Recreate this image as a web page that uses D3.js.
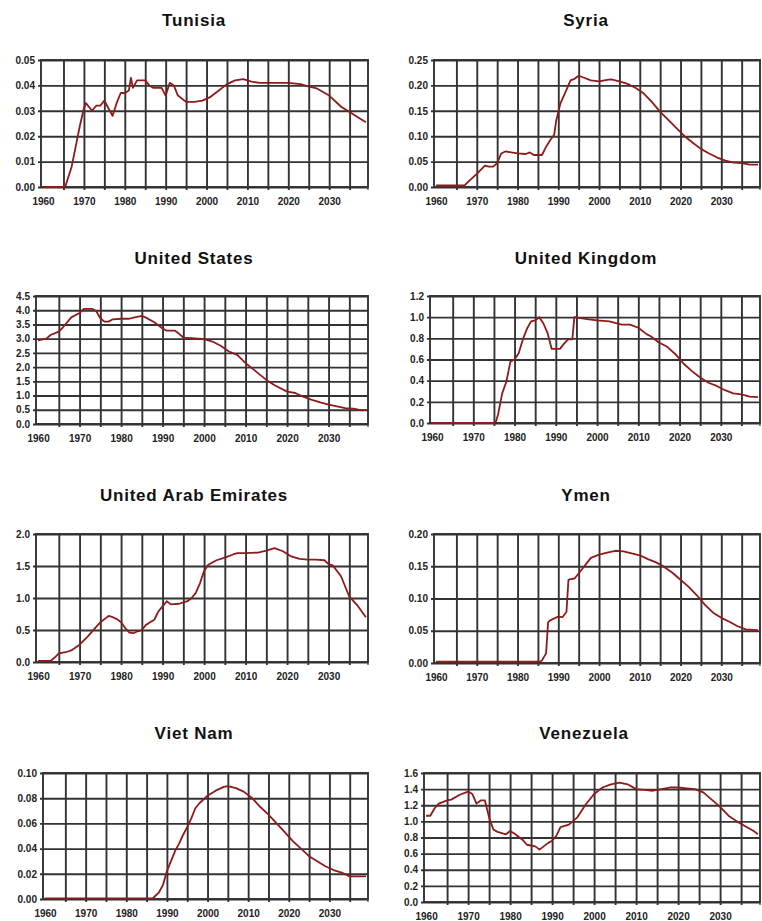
<!DOCTYPE html>
<html>
<head>
<meta charset="utf-8">
<script src="https://cdn.jsdelivr.net/npm/d3@7"></script>
<style>
  body { margin: 0; background: #fff; }
  svg { display: block; font-family: "Liberation Sans", Arial, sans-serif; }
  .title { font-size: 17px; font-weight: bold; letter-spacing: 0.8px; text-anchor: middle; fill: #111; }
  .tick text { font-size: 10px; font-weight: bold; fill: #222; font-family: "Liberation Sans", Arial, sans-serif; }
</style>
</head>
<body>
<svg id="chart" width="762" height="921"></svg>
<script>
// year / value pairs
const tunisia = [[1960,0],[1965,0],[1965.5,0.0005],[1967,0.008],[1968,0.016],[1969,0.024],[1970,0.031],[1970.5,0.033],[1972,0.030],[1973,0.032],[1974,0.032],[1975,0.034],[1976,0.031],[1977,0.028],[1978,0.033],[1979,0.037],[1980,0.037],[1981,0.038],[1981.5,0.043],[1982,0.039],[1983,0.042],[1985,0.042],[1986,0.040],[1987,0.039],[1989,0.039],[1990,0.036],[1991,0.041],[1992,0.040],[1993,0.036],[1995,0.0335],[1997,0.0335],[1999,0.034],[2001,0.0355],[2003,0.038],[2005,0.0405],[2007,0.042],[2009,0.0425],[2011,0.0415],[2013,0.041],[2015,0.041],[2017,0.041],[2020,0.041],[2023,0.0405],[2025,0.0395],[2027,0.0388],[2030,0.036],[2033,0.0315],[2035,0.0295],[2037,0.0275],[2039,0.0255]];
const syria = [[1960,0.003],[1967,0.003],[1968,0.011],[1970,0.026],[1972,0.042],[1973,0.040],[1974,0.040],[1975,0.047],[1976,0.066],[1977,0.070],[1980,0.066],[1982,0.065],[1983,0.068],[1984,0.063],[1986,0.063],[1987,0.079],[1988,0.092],[1989,0.103],[1989.5,0.131],[1990.5,0.164],[1992,0.191],[1993,0.210],[1994,0.213],[1995,0.219],[1996,0.216],[1998,0.210],[2000,0.208],[2002,0.211],[2003,0.212],[2005,0.208],[2007,0.203],[2009,0.195],[2011,0.184],[2013,0.167],[2015,0.148],[2017,0.132],[2019,0.116],[2021,0.100],[2023,0.087],[2025,0.075],[2027,0.066],[2029,0.058],[2031,0.052],[2033,0.048],[2035,0.047],[2037,0.044],[2039,0.044]];
const unitedStates = [[1960,2.94],[1962,3.0],[1963,3.13],[1965,3.25],[1966,3.4],[1968,3.75],[1970,3.9],[1971,4.05],[1973,4.05],[1974,3.97],[1975,3.72],[1976,3.6],[1977,3.6],[1978,3.68],[1980,3.7],[1982,3.7],[1983,3.74],[1985,3.8],[1986,3.74],[1988,3.58],[1990,3.36],[1991,3.28],[1993,3.28],[1994,3.17],[1995,3.04],[1997,3.02],[2000,2.98],[2002,2.9],[2004,2.75],[2006,2.55],[2008,2.43],[2010,2.14],[2013,1.79],[2015,1.55],[2017,1.36],[2020,1.14],[2022,1.09],[2024,0.95],[2026,0.85],[2028,0.76],[2030,0.68],[2032,0.62],[2034,0.56],[2036,0.54],[2038,0.48],[2039,0.5]];
const unitedKingdom = [[1960,0],[1975,0],[1975.5,0.015],[1976,0.08],[1977,0.28],[1978,0.39],[1979,0.58],[1980,0.6],[1981,0.66],[1982,0.79],[1983,0.89],[1984,0.96],[1985,0.97],[1986,1.0],[1987,0.94],[1988,0.85],[1989,0.7],[1990,0.7],[1991,0.7],[1992,0.75],[1993,0.79],[1994,0.79],[1994.5,1.0],[1996,0.99],[1998,0.98],[2000,0.97],[2003,0.96],[2006,0.93],[2008,0.93],[2010,0.9],[2012,0.84],[2013,0.82],[2015,0.76],[2017,0.72],[2019,0.65],[2021,0.56],[2023,0.49],[2025,0.43],[2027,0.38],[2029,0.35],[2031,0.31],[2033,0.28],[2035,0.27],[2037,0.25],[2039,0.245]];
const uae = [[1960,0.016],[1963,0.016],[1964,0.07],[1965,0.135],[1967,0.16],[1968,0.18],[1970,0.27],[1972,0.4],[1974,0.55],[1975,0.62],[1976,0.67],[1977,0.72],[1978,0.7],[1979,0.67],[1980,0.62],[1981,0.53],[1982,0.46],[1983,0.45],[1984,0.48],[1985,0.5],[1986,0.58],[1987,0.62],[1988,0.66],[1989,0.79],[1990,0.87],[1991,0.95],[1992,0.9],[1994,0.91],[1996,0.95],[1997,1.0],[1998,1.08],[1999,1.23],[2000,1.42],[2001,1.52],[2003,1.59],[2005,1.63],[2007,1.68],[2008,1.7],[2010,1.7],[2013,1.71],[2015,1.74],[2017,1.78],[2019,1.73],[2021,1.65],[2023,1.61],[2025,1.6],[2027,1.6],[2029,1.59],[2030,1.53],[2031,1.51],[2033,1.34],[2034,1.18],[2035,1.02],[2037,0.88],[2039,0.7]];
const ymen = [[1960,0.002],[1985.5,0.002],[1986,0.004],[1987,0.015],[1987.5,0.063],[1988,0.066],[1990,0.072],[1991,0.071],[1992,0.079],[1992.5,0.129],[1993,0.13],[1994,0.131],[1996,0.147],[1998,0.163],[2000,0.168],[2002,0.171],[2004,0.174],[2006,0.173],[2008,0.17],[2010,0.167],[2012,0.161],[2014,0.156],[2016,0.149],[2018,0.14],[2020,0.129],[2022,0.118],[2024,0.105],[2026,0.09],[2028,0.078],[2030,0.07],[2032,0.064],[2034,0.057],[2036,0.052],[2039,0.051]];
const vietNam = [[1960,0.0005],[1986.5,0.0005],[1987,0.002],[1988,0.005],[1989,0.011],[1990,0.022],[1991,0.03],[1992,0.038],[1993,0.044],[1994,0.051],[1995,0.057],[1996,0.064],[1997,0.072],[1998,0.076],[2000,0.082],[2002,0.086],[2004,0.089],[2005,0.0895],[2007,0.088],[2009,0.085],[2011,0.08],[2013,0.073],[2015,0.067],[2017,0.06],[2019,0.053],[2021,0.046],[2023,0.04],[2025,0.034],[2027,0.03],[2029,0.026],[2031,0.023],[2033,0.021],[2035,0.018],[2037,0.018],[2039,0.018]];
const venezuela = [[1960,1.07],[1961,1.07],[1962,1.16],[1963,1.22],[1965,1.26],[1966,1.27],[1968,1.33],[1970,1.37],[1971,1.34],[1972,1.22],[1973,1.26],[1974,1.26],[1975,1.05],[1976,0.9],[1977,0.87],[1979,0.84],[1980,0.88],[1981,0.85],[1983,0.77],[1984,0.71],[1986,0.69],[1987,0.65],[1988,0.69],[1989,0.73],[1990,0.76],[1991,0.82],[1992,0.93],[1994,0.96],[1996,1.05],[1998,1.21],[2000,1.34],[2002,1.42],[2004,1.46],[2006,1.48],[2008,1.46],[2010,1.4],[2012,1.39],[2014,1.38],[2016,1.4],[2018,1.42],[2020,1.42],[2022,1.41],[2024,1.4],[2026,1.36],[2028,1.27],[2030,1.18],[2032,1.07],[2034,1.0],[2036,0.94],[2038,0.88],[2039,0.84]];

const tunisiaTicks = [0, 0.01, 0.02, 0.03, 0.04, 0.05];
const syriaTicks = [0, 0.05, 0.10, 0.15, 0.20, 0.25];
const usTicks = [0, 0.5, 1.0, 1.5, 2.0, 2.5, 3.0, 3.5, 4.0, 4.5];
const ukTicks = [0, 0.2, 0.4, 0.6, 0.8, 1.0, 1.2];
const uaeTicks = [0, 0.5, 1.0, 1.5, 2.0];
const ymenTicks = [0, 0.05, 0.10, 0.15, 0.20];
const vietNamTicks = [0, 0.02, 0.04, 0.06, 0.08, 0.10];
const venezuelaTicks = [0, 0.2, 0.4, 0.6, 0.8, 1.0, 1.2, 1.4, 1.6];

const yearLabels = [1960, 1970, 1980, 1990, 2000, 2010, 2020, 2030];
const yearGrid = [1965, 1970, 1975, 1980, 1985, 1990, 1995, 2000, 2005, 2010, 2015, 2020, 2025, 2030, 2035];

// layout of the eight small charts
const panels = [
  {title: "Tunisia", data: tunisia, ticks: tunisiaTicks, fmt: ".2f", left: 41, right: 368, top: 60, bottom: 187, tx: 194, ty: 26},
  {title: "Syria", data: syria, ticks: syriaTicks, fmt: ".2f", left: 434, right: 760, top: 60, bottom: 187, tx: 586, ty: 26},
  {title: "United States", data: unitedStates, ticks: usTicks, fmt: ".1f", left: 36, right: 368, top: 296, bottom: 424, tx: 194, ty: 264},
  {title: "United Kingdom", data: unitedKingdom, ticks: ukTicks, fmt: ".1f", left: 430, right: 760, top: 296, bottom: 423, tx: 586, ty: 264},
  {title: "United Arab Emirates", data: uae, ticks: uaeTicks, fmt: ".1f", left: 36, right: 368, top: 534, bottom: 662, tx: 194, ty: 501},
  {title: "Ymen", data: ymen, ticks: ymenTicks, fmt: ".2f", left: 434, right: 760, top: 534, bottom: 663, tx: 586, ty: 501},
  {title: "Viet Nam", data: vietNam, ticks: vietNamTicks, fmt: ".2f", left: 43, right: 368, top: 773, bottom: 899, tx: 194, ty: 739},
  {title: "Venezuela", data: venezuela, ticks: venezuelaTicks, fmt: ".1f", left: 424, right: 760, top: 773, bottom: 902, tx: 584, ty: 739}
];

const svg = d3.select("#chart");
const gridColor = "#333";

panels.forEach(p => {
  const g = svg.append("g");
  const w = p.right - p.left;
  const h = p.bottom - p.top;

  const x = d3.scaleLinear().domain([1959.5, 2039.5]).range([p.left, p.right]);
  const y = d3.scaleLinear().domain([0, d3.max(p.ticks)]).range([p.bottom, p.top]);

  g.append("text").attr("class", "title")
    .attr("x", p.tx).attr("y", p.ty).text(p.title);

  // horizontal grid + y labels
  const yAxis = g.append("g")
    .attr("transform", `translate(${p.left},0)`)
    .call(d3.axisLeft(y).tickValues(p.ticks).tickFormat(d3.format(p.fmt)).tickSizeInner(-w).tickSizeOuter(0).tickPadding(6));
  yAxis.select(".domain").remove();
  yAxis.selectAll("line").attr("x1", -3).attr("stroke", gridColor).attr("stroke-width", 1.9);

  // vertical grid every 5 years
  const xGrid = g.append("g")
    .attr("transform", `translate(0,${p.bottom})`)
    .call(d3.axisBottom(x).tickValues(yearGrid).tickSizeInner(-h).tickSizeOuter(0).tickFormat(""));
  xGrid.select(".domain").remove();
  xGrid.selectAll("line").attr("y1", 3).attr("stroke", gridColor).attr("stroke-width", 1.9);

  // year labels
  const xLab = g.append("g")
    .attr("transform", `translate(0,${p.bottom})`)
    .call(d3.axisBottom(x).tickValues(yearLabels).tickSize(0).tickPadding(11).tickFormat(d3.format("d")));
  xLab.select(".domain").remove();

  // plot border
  g.append("rect")
    .attr("x", p.left).attr("y", p.top).attr("width", w).attr("height", h)
    .attr("fill", "none").attr("stroke", gridColor).attr("stroke-width", 1.9);
  g.append("line")
    .attr("x1", p.right).attr("x2", p.right).attr("y1", p.bottom).attr("y2", p.bottom + 3)
    .attr("stroke", gridColor).attr("stroke-width", 1.2);

  const line = d3.line().x(d => x(d[0])).y(d => y(d[1]));
  g.append("path").datum(p.data)
    .attr("d", line)
    .attr("fill", "none")
    .attr("stroke", "#8e1b1b")
    .attr("stroke-width", 1.8)
    .attr("stroke-linejoin", "round");
});
</script>
</body>
</html>
